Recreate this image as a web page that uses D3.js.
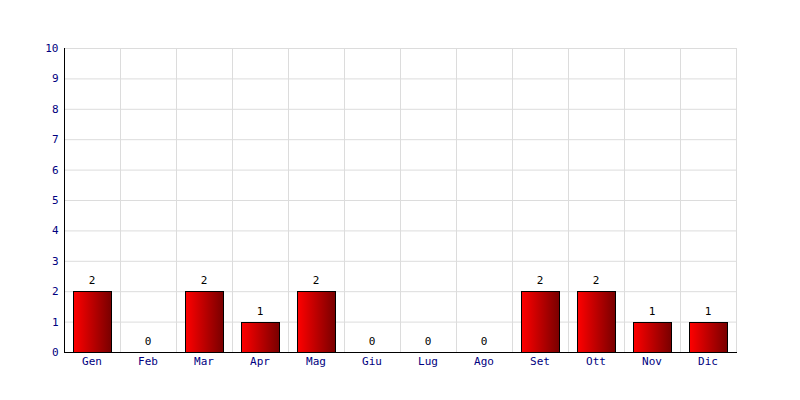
<!DOCTYPE html>
<html><head><meta charset="utf-8">
<script src="https://cdn.jsdelivr.net/npm/d3@7"></script>
<style>body{margin:0;background:#fff}svg{display:block}</style>
</head><body>
<script>
const months = ["Gen","Feb","Mar","Apr","Mag","Giu","Lug","Ago","Set","Ott","Nov","Dic"];
const values = [2,0,2,1,2,0,0,0,2,2,1,1];
const yTicks = [0,1,2,3,4,5,6,7,8,9,10];

const W=800,H=400, L=64, R=736, T=48, B=352;
const svg=d3.select("body").append("svg").attr("width",W).attr("height",H);
const defs=svg.append("defs");
const g=defs.append("linearGradient").attr("id","bg").attr("x1","0").attr("x2","1").attr("y1","0").attr("y2","0");
g.append("stop").attr("offset","0").attr("stop-color","#ff0000");
g.append("stop").attr("offset","1").attr("stop-color","#780000");

const x=d3.scaleBand().domain(months).range([L,R]).paddingInner(0).paddingOuter(0);
const y=d3.scaleLinear().domain([0,10]).range([B,T]);
const font="'DejaVu Sans Mono', monospace";

// grid
svg.append("g").selectAll("line.h").data(yTicks).join("line")
 .attr("x1",L).attr("x2",R+1).attr("y1",d=>y(d)+0.5).attr("y2",d=>y(d)+0.5)
 .attr("stroke","#dcdcdc");
svg.append("g").selectAll("line.v").data(months).join("line")
 .attr("x1",d=>Math.round(x(d)+x.bandwidth())+0.5).attr("x2",d=>Math.round(x(d)+x.bandwidth())+0.5)
 .attr("y1",T).attr("y2",B).attr("stroke","#dcdcdc");

// bars
const bw=38;
svg.append("g").selectAll("rect").data(values).join("rect")
 .attr("x",(d,i)=>Math.round(x(months[i])+(x.bandwidth()-bw)/2)+0.5)
 .attr("y",d=>Math.round(y(d))+0.5)
 .attr("width",bw)
 .attr("height",d=>Math.round(y(0))-Math.round(y(d)))
 .attr("fill","url(#bg)").attr("stroke","#000").attr("stroke-width",1)
 .style("display",d=>d>0?null:"none");

// value labels
svg.append("g").selectAll("text").data(values).join("text")
 .attr("x",(d,i)=>x(months[i])+x.bandwidth()/2)
 .attr("y",d=>y(d)-7)
 .attr("text-anchor","middle").attr("font-family",font).attr("font-size",11)
 .attr("fill","#000").text(d=>d);

// axes
const ya=svg.append("g").attr("transform",`translate(${L+0.5},0)`)
 .call(d3.axisLeft(y).tickValues(yTicks).tickSize(0).tickPadding(6));
ya.select(".domain").attr("stroke","#000").attr("d",`M0,${T}V${B+0.5}`);
ya.selectAll("text").attr("font-family",font).attr("font-size",11).attr("fill","#000080");

const xa=svg.append("g").attr("transform",`translate(0,${B+0.5})`)
 .call(d3.axisBottom(x).tickSize(0).tickPadding(5));
xa.select(".domain").attr("stroke","#000").attr("d",`M${L},0H${R+1}`);
xa.selectAll("text").attr("font-family",font).attr("font-size",11).attr("fill","#000080");
</script>
</body></html>
